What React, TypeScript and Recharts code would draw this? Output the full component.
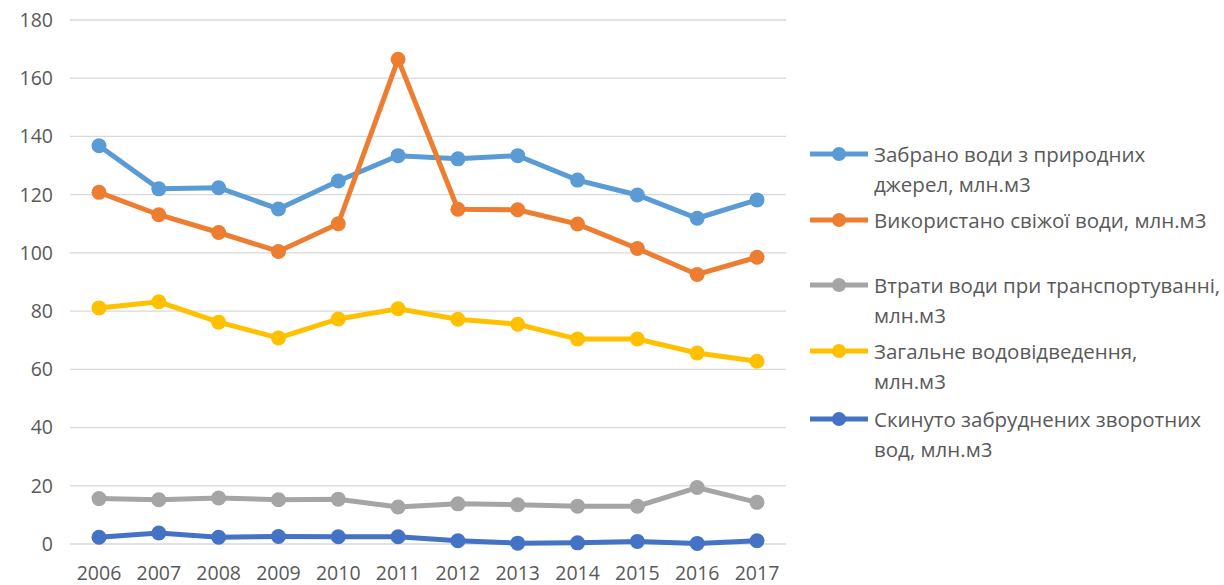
import { LineChart, Line, XAxis, YAxis, CartesianGrid } from "recharts";

const years = ["2006", "2007", "2008", "2009", "2010", "2011", "2012", "2013", "2014", "2015", "2016", "2017"];

const withdrawn = [136.8, 122.0, 122.4, 115.1, 124.7, 133.4, 132.3, 133.4, 125.0, 119.9, 111.9, 118.2];
const freshUsed = [120.8, 113.1, 107.0, 100.5, 110.0, 166.5, 115.0, 114.8, 109.9, 101.5, 92.6, 98.5];
const transportLoss = [15.6, 15.2, 15.8, 15.2, 15.4, 12.7, 13.8, 13.5, 13.0, 13.0, 19.4, 14.3];
const totalDischarge = [81.1, 83.2, 76.2, 70.8, 77.3, 80.8, 77.2, 75.5, 70.4, 70.4, 65.6, 62.8];
const pollutedDischarge = [2.3, 3.8, 2.3, 2.6, 2.5, 2.5, 1.1, 0.3, 0.4, 0.9, 0.2, 1.1];

const yTicks = [0, 20, 40, 60, 80, 100, 120, 140, 160, 180];

const series = [
  { key: "withdrawn", color: "#5B9BD5", lines: ["Забрано води з природних", "джерел, млн.м3"] },
  { key: "freshUsed", color: "#ED7D31", lines: ["Використано свіжої води, млн.м3"] },
  { key: "transportLoss", color: "#A5A5A5", lines: ["Втрати води при транспортуванні,", "млн.м3"] },
  { key: "totalDischarge", color: "#FFC000", lines: ["Загальне водовідведення,", "млн.м3"] },
  { key: "pollutedDischarge", color: "#4472C4", lines: ["Скинуто забруднених зворотних", "вод, млн.м3"] },
];

const data = years.map((year, i) => ({
  year,
  withdrawn: withdrawn[i],
  freshUsed: freshUsed[i],
  transportLoss: transportLoss[i],
  totalDischarge: totalDischarge[i],
  pollutedDischarge: pollutedDischarge[i],
}));

// top of each legend entry (first text line)
const legendTops = [139, 205, 270, 336, 404];

const font = "'Open Sans', sans-serif";
const textColor = "#595959";

export default function App() {
  return (
    <div style={{ position: "absolute", left: 0, top: 0, width: 1224, height: 585, background: "#fff", fontFamily: font }}>
      <LineChart width={1224} height={585} data={data} margin={{ top: 20, right: 438, bottom: 0, left: 10 }}>
        <CartesianGrid vertical={false} stroke="#D9D9D9" strokeWidth={1.3} />
        <XAxis
          dataKey="year"
          axisLine={false}
          tickLine={false}
          height={41}
          padding={{ left: 29, right: 29 }}
          tick={{ fill: textColor, fontSize: 19.5, fontFamily: font }}
          tickMargin={16}
          interval={0}
        />
        <YAxis
          domain={[0, 180]}
          ticks={yTicks}
          width={60}
          axisLine={false}
          tickLine={false}
          tickSize={0}
          tickMargin={17}
          tick={{ fill: textColor, fontSize: 19.5, fontFamily: font }}
        />
        {series.map((s) => (
          <Line
            key={s.key}
            dataKey={s.key}
            stroke={s.color}
            strokeWidth={5}
            dot={{ r: 7.5, fill: s.color, stroke: "none" }}
            isAnimationActive={false}
          />
        ))}
      </LineChart>
      {series.map((s, i) => (
        <div key={s.key} style={{ position: "absolute", left: 810, top: legendTops[i], color: textColor, fontSize: 20.5, lineHeight: "30px" }}>
          <svg width={60} height={30} style={{ position: "absolute", left: 0, top: 0 }}>
            <line x1={0} y1={15} x2={58} y2={15} stroke={s.color} strokeWidth={5} />
            <circle cx={29} cy={15} r={7} fill={s.color} />
          </svg>
          <div style={{ marginLeft: 64, whiteSpace: "nowrap" }}>
            {s.lines.map((t) => (
              <div key={t}>{t}</div>
            ))}
          </div>
        </div>
      ))}
    </div>
  );
}
